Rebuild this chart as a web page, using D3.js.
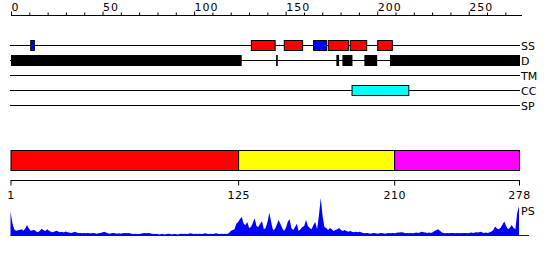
<!DOCTYPE html>
<html>
<head>
<meta charset="utf-8">
<script src="https://cdn.jsdelivr.net/npm/d3@7"></script>
<style>
  html, body { margin: 0; padding: 0; background: #fff; }
  svg { display: block; }
  text { font-family: "DejaVu Sans", sans-serif; }
</style>
</head>
<body>
<svg id="chart" width="550" height="260"></svg>
<script>
// ---------- data ----------
const seqLength = 278;
const topTickValues = [0,10,20,30,40,50,60,70,80,90,100,110,120,130,140,150,160,170,180,190,200,210,220,230,240,250,260,270];
const topTickLabels = [0, 50, 100, 150, 200, 250];
const trackNames = ["SS", "D", "TM", "CC", "SP"];

// secondary structure: [start, end, type]
const ssSegments = [
  [10.5, 12.5, "E"], [131, 144, "H"], [149, 159, "H"], [165, 172, "E"],
  [173, 184, "H"], [185, 194, "H"], [200, 208, "H"]
];
// disorder regions [start, end]
const disorderSegments = [
  [0, 126], [144.8, 145.7], [177.7, 179.2], [181, 186.5], [193, 200], [207, 278]
];
const tmSegments = [];
const ccSegments = [[186, 217]];
const spSegments = [];

// domain bar
const domainSegments = [[1, 125, "#ff0000"], [125, 210, "#ffff00"], [210, 278, "#ff00ff"]];
const bottomTickValues = [1, 125, 210, 278];

// PS score per residue (percent of max)
const psValues = [
  64,35,18,14,15,16,18,14,20,29,
  20,14,15,16,12,10,14,19,15,13,
  18,14,11,10,12,14,12,10,11,9,
  12,10,9,8,9,11,9,8,8,7,
  8,7,8,7,7,8,7,6,7,8,
  9,11,9,7,6,7,8,7,6,7,
  6,7,8,7,8,7,6,5,6,5,
  5,6,7,8,7,8,7,6,5,5,
  5,4,5,5,4,5,6,5,4,5,
  5,4,5,6,5,6,5,6,7,6,
  5,6,5,6,5,6,7,6,5,6,
  5,6,7,6,5,6,5,6,
  5,8,13,16,18,32,37,45,50,32,29,37,
  21,24,34,47,26,24,32,39,18,21,
  37,61,37,16,18,29,42,32,21,13,
  21,37,45,21,16,24,32,13,18,24,
  26,42,26,21,18,29,37,18,53,100,
  53,24,21,16,21,18,13,16,18,21,
  16,13,16,13,11,13,11,10,11,10,
  11,10,8,7,8,7,6,7,8,7,
  6,7,8,7,6,7,8,7,8,7,
  8,9,9,10,9,7,8,7,8,7,
  8,9,8,9,11,10,9,8,9,8,
  10,13,16,18,13,9,8,7,8,7,
  8,8,7,8,7,8,7,8,8,7,
  8,9,8,9,10,9,11,9,8,9,
  8,10,12,16,25,20,18,22,30,38,
  26,18,22,29,22,18,60,79
];

// ---------- drawing ----------
const svg = d3.select("#chart");
const xTop = d3.scaleLinear().domain([0, seqLength]).range([11, 520]);
const xBot = d3.scaleLinear().domain([1, seqLength]).range([10.5, 519]);
const trackY = d3.scalePoint().domain(trackNames).range([45, 105]);
const ssColor = d3.scaleOrdinal().domain(["H", "E"]).range(["#ff0000", "#0000ff"]);

// top axis
const topAxis = d3.axisTop(xTop)
  .tickValues(topTickValues)
  .tickSize(3)
  .tickSizeOuter(0)
  .tickFormat(d => topTickLabels.includes(d) ? d : "");
const gTop = svg.append("g").attr("transform", "translate(0,15.5)").call(topAxis);
gTop.select(".domain").attr("stroke", "#000").attr("d", `M${xTop(0)},0H${xTop(seqLength) + 2}`);
gTop.selectAll(".tick line").attr("stroke", "#000")
  .attr("y2", d => topTickLabels.includes(d) ? -4 : -3);
gTop.selectAll(".tick text")
  .attr("text-anchor", "start").attr("y", -5).attr("dy", 0)
  .attr("font-size", 11).attr("letter-spacing", 1).attr("fill", "#000");

// track lines and labels
const gTracks = svg.append("g");
gTracks.selectAll("line").data(trackNames).enter().append("line")
  .attr("x1", xTop(0) - 1).attr("x2", xTop(seqLength))
  .attr("y1", d => trackY(d) + 0.5).attr("y2", d => trackY(d) + 0.5)
  .attr("stroke", "#000").attr("stroke-width", 1);
gTracks.selectAll("text").data(trackNames).enter().append("text")
  .attr("x", xTop(seqLength) + 1).attr("y", d => trackY(d) + 4.5)
  .attr("font-size", 11).attr("fill", "#000").text(d => d);

// SS boxes
svg.append("g").selectAll("rect").data(ssSegments).enter().append("rect")
  .attr("x", d => xTop(d[0]) + 0.5).attr("width", d => xTop(d[1]) - xTop(d[0]))
  .attr("y", trackY("SS") - 4.5).attr("height", 10)
  .attr("fill", d => ssColor(d[2])).attr("stroke", "#000").attr("stroke-width", 1);

// disorder
svg.append("g").selectAll("rect").data(disorderSegments).enter().append("rect")
  .attr("x", d => xTop(d[0])).attr("width", d => Math.max(1.5, xTop(d[1]) - xTop(d[0])))
  .attr("y", trackY("D") - 5).attr("height", 11)
  .attr("fill", "#000");

// TM
svg.append("g").selectAll("rect").data(tmSegments).enter().append("rect")
  .attr("x", d => xTop(d[0]) + 0.5).attr("width", d => xTop(d[1]) - xTop(d[0]))
  .attr("y", trackY("TM") - 4.5).attr("height", 10)
  .attr("fill", "#00ff00").attr("stroke", "#000");

// CC
svg.append("g").selectAll("rect").data(ccSegments).enter().append("rect")
  .attr("x", d => xTop(d[0]) + 0.5).attr("width", d => xTop(d[1]) - xTop(d[0]))
  .attr("y", trackY("CC") - 4.5).attr("height", 10)
  .attr("fill", "#00ffff").attr("stroke", "#000").attr("stroke-width", 1);

// SP
svg.append("g").selectAll("rect").data(spSegments).enter().append("rect")
  .attr("x", d => xTop(d[0]) + 0.5).attr("width", d => xTop(d[1]) - xTop(d[0]))
  .attr("y", trackY("SP") - 4.5).attr("height", 10)
  .attr("fill", "#ff8800").attr("stroke", "#000");

// domain bar
svg.append("g").selectAll("rect").data(domainSegments).enter().append("rect")
  .attr("x", d => xBot(d[0]) + 0.5).attr("width", d => xBot(d[1]) - xBot(d[0]))
  .attr("y", 150.5).attr("height", 20)
  .attr("fill", d => d[2]).attr("stroke", "#000").attr("stroke-width", 1);

// bottom axis
const botAxis = d3.axisBottom(xBot)
  .tickValues(bottomTickValues).tickSize(5).tickSizeOuter(0).tickPadding(6);
const gBot = svg.append("g").attr("transform", "translate(0,180.5)").call(botAxis);
gBot.select(".domain").attr("stroke", "#000").attr("d", `M${xBot(1)},0H${xBot(seqLength) + 1}`);
gBot.selectAll(".tick line").attr("stroke", "#000");
gBot.selectAll(".tick text").attr("font-size", 11).attr("fill", "#000").attr("letter-spacing", 0.5);

// PS area
const yPS = d3.scaleLinear().domain([0, 100]).range([236, 198]);
const area = d3.area()
  .x((d, i) => xBot(i + 1))
  .y0(yPS(0)).y1(d => yPS(d));
svg.append("path").datum(psValues).attr("d", area).attr("fill", "#0000ff").attr("stroke", "none");
svg.append("line")
  .attr("x1", xBot(1)).attr("x2", xBot(seqLength) + 10)
  .attr("y1", yPS(0) - 0.5).attr("y2", yPS(0) - 0.5)
  .attr("stroke", "#0000ff").attr("stroke-width", 1);
svg.append("text").attr("x", xBot(seqLength) + 2).attr("y", 215)
  .attr("font-size", 11).attr("fill", "#000").text("PS");
</script>
</body>
</html>
